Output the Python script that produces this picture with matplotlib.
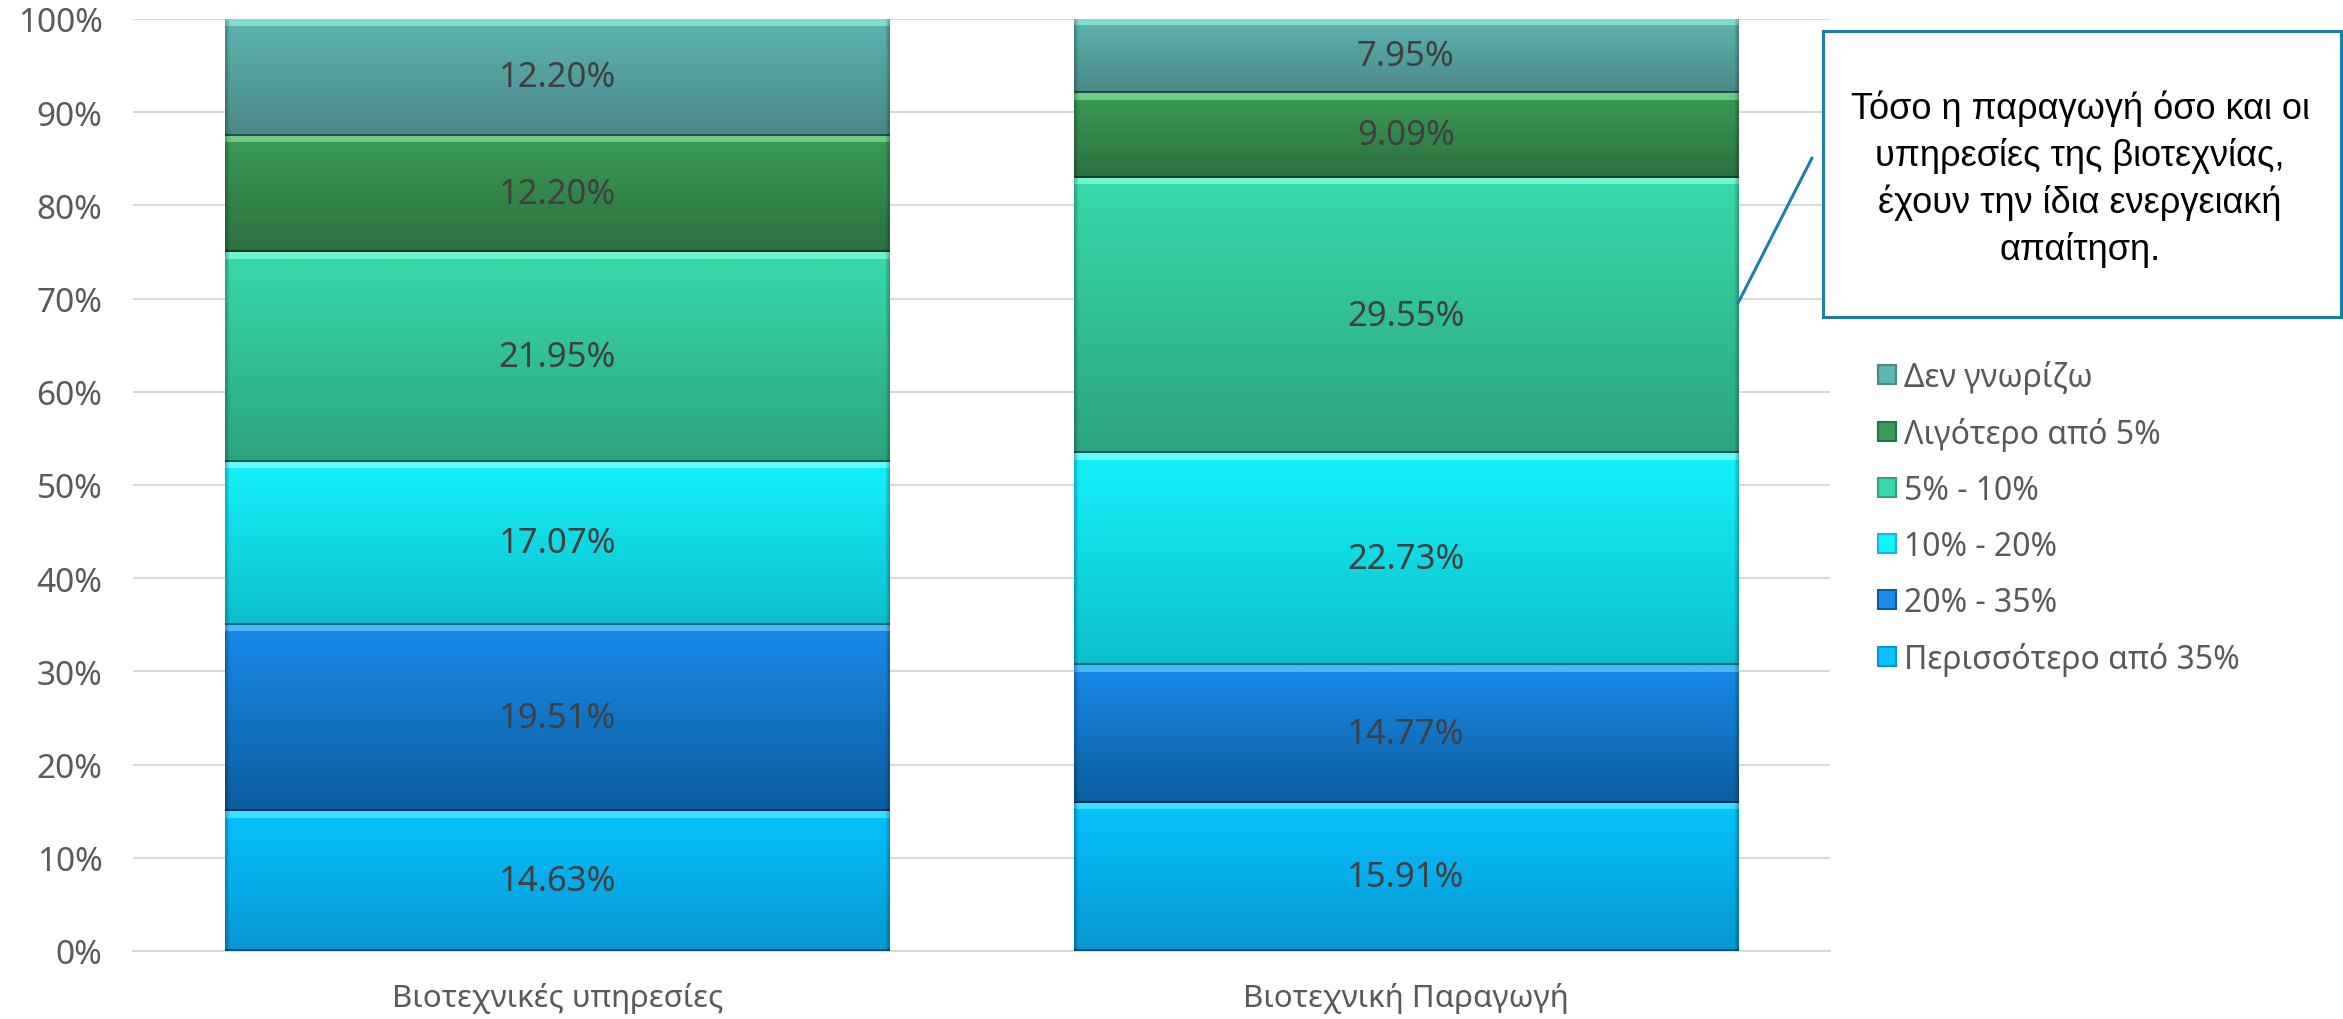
import numpy as np
import matplotlib
matplotlib.use("Agg")
import matplotlib.pyplot as plt
from matplotlib.patches import Rectangle
from matplotlib.colors import to_rgb

# ---------------- data ----------------
categories = ["Βιοτεχνικές υπηρεσίες", "Βιοτεχνική Παραγωγή"]
series_names = ["Περισσότερο από 35%", "20% - 35%", "10% - 20%", "5% - 10%",
                "Λιγότερο από 5%", "Δεν γνωρίζω"]
v_more35 = [14.63, 15.91]
v_20_35 = [19.51, 14.77]
v_10_20 = [17.07, 22.73]
v_5_10 = [21.95, 29.55]
v_less5 = [12.20, 9.09]
v_dk = [12.20, 7.95]
series_values = [v_more35, v_20_35, v_10_20, v_5_10, v_less5, v_dk]
yticks = [0, 10, 20, 30, 40, 50, 60, 70, 80, 90, 100]
ytick_labels = ["0%", "10%", "20%", "30%", "40%", "50%", "60%", "70%", "80%", "90%", "100%"]
callout_text = "Τόσο η παραγωγή όσο και οι\nυπηρεσίες της βιοτεχνίας,\nέχουν την ίδια ενεργειακή\nαπαίτηση."

# (top, bottom) gradient colours per series
grad_colors = [("#07C3FF", "#0597D2"),
               ("#1A8BEA", "#0B5C9F"),
               ("#14F2FB", "#0DBFCC"),
               ("#38DAAC", "#2CA47F"),
               ("#3A9C56", "#2C703F"),
               ("#5DB6B0", "#4A8887")]
highlight = ["#4FE6FF", "#5AC8FF", "#7FFFFF", "#7FFFD8", "#7DDC95", "#8FE8DD"]

W, H = 2343, 1020
fig = plt.figure(figsize=(W / 100, H / 100), dpi=100)
ax = fig.add_axes([133 / W, (H - 952) / H, (1830 - 133) / W, (952 - 20) / H])

x = np.arange(len(categories))
totals = np.sum(np.array(series_values), axis=0)
bar_w = 0.783
bottoms = np.zeros(len(categories))
ax.set_xlim(-0.5, 1.5)
ax.set_ylim(0, 100)

px_y = 100 / 932.0  # data units per pixel vertically
px_x = 2.0 / 1697.0

label_font = ["Noto Sans", "DejaVu Sans"]
txt_col = "#404040"
tick_col = "#595959"

for i, vals in enumerate(series_values):
    pct = np.array(vals) / totals * 100
    bars = ax.bar(x, pct, bottom=bottoms, width=bar_w, color=grad_colors[i][0],
                  edgecolor="none", zorder=2)
    ctop = np.array(to_rgb(grad_colors[i][0]))
    cbot = np.array(to_rgb(grad_colors[i][1]))
    chl = np.array(to_rgb(highlight[i]))
    for b, v in zip(bars, vals):
        x0, y0, w, h = b.get_x(), b.get_y(), b.get_width(), b.get_height()
        n = max(int(round(h / px_y)), 2)
        m = max(int(round(w / px_x)), 2)
        t = np.linspace(0, 1, n)[:, None]  # 0 top -> 1 bottom
        col = ctop[None, :] * (1 - t) + cbot[None, :] * t
        col[:7] = chl * 0.75 + ctop * 0.25
        col[-2:] = cbot * 0.55
        img = np.repeat(col[:, None, :], m, axis=1)
        edge = np.ones(m)
        k = 5
        edge[:k] = np.linspace(0.75, 0.97, k)
        edge[-k:] = np.linspace(0.97, 0.75, k)
        img = img * edge[None, :, None]
        im = ax.imshow(np.clip(img, 0, 1), extent=[x0, x0 + w, y0, y0 + h],
                       aspect="auto", origin="upper", zorder=3, interpolation="bilinear")
        im.set_clip_path(b)
        ax.text(b.get_x() + w / 2, y0 + h / 2, f"{v:.2f}%", ha="center", va="center",
                fontsize=25, color=txt_col, family=label_font, zorder=5)
    bottoms = bottoms + pct

ax.set_xlim(-0.5, 1.5)
ax.set_ylim(0, 100)

# grid & axes
ax.set_yticks(yticks)
ax.set_yticklabels(ytick_labels)
ax.yaxis.grid(True, color="#D9D9D9", linewidth=1.5, zorder=0)
ax.set_axisbelow(True)
for s in ["left", "right", "top"]:
    ax.spines[s].set_visible(False)
ax.spines["bottom"].set_color("#D9D9D9")
ax.spines["bottom"].set_linewidth(1.5)
ax.set_xticks(x)
ax.set_xticklabels(categories)
ax.tick_params(axis="y", length=0, pad=22, labelsize=24, labelcolor=tick_col)
ax.tick_params(axis="x", length=0, pad=22, labelsize=22.5, labelcolor=tick_col)
for lab in ax.get_xticklabels() + ax.get_yticklabels():
    lab.set_family(label_font)

# legend (reversed order)
handles = [Rectangle((0, 0), 1, 1, facecolor=grad_colors[i][0],
                     edgecolor=grad_colors[i][1], linewidth=1.5)
           for i in range(len(series_names))][::-1]
leg = fig.legend(handles, series_names[::-1], loc="center left",
                 bbox_to_anchor=(1878 / W, 1 - 519 / H), frameon=False,
                 prop={"family": label_font, "size": 23}, labelcolor=tick_col,
                 handlelength=0.55, handleheight=0.55, handletextpad=0.25,
                 labelspacing=0.72, borderpad=0, borderaxespad=0)

# callout
box_col = "#1B80A8"
fig.patches.append(Rectangle((1823 / W, 1 - 318 / H), (2341 - 1823) / W, (318 - 32) / H,
                             transform=fig.transFigure, facecolor="white",
                             edgecolor=box_col, linewidth=2.2, zorder=10))
fig.text(2080 / W, 1 - 179 / H, callout_text, ha="center", va="center",
         fontsize=26, family=["Liberation Sans", "DejaVu Sans"], color="black",
         linespacing=1.38, zorder=11)
ax.annotate("", xy=(1 + bar_w / 2, 69.5), xycoords="data",
            xytext=(1812 / W, 1 - 159 / H), textcoords="figure fraction",
            arrowprops=dict(arrowstyle="-", color=box_col, linewidth=2.2,
                            shrinkA=0, shrinkB=0), zorder=10)

fig.savefig("out.png", dpi=100, facecolor="white")
